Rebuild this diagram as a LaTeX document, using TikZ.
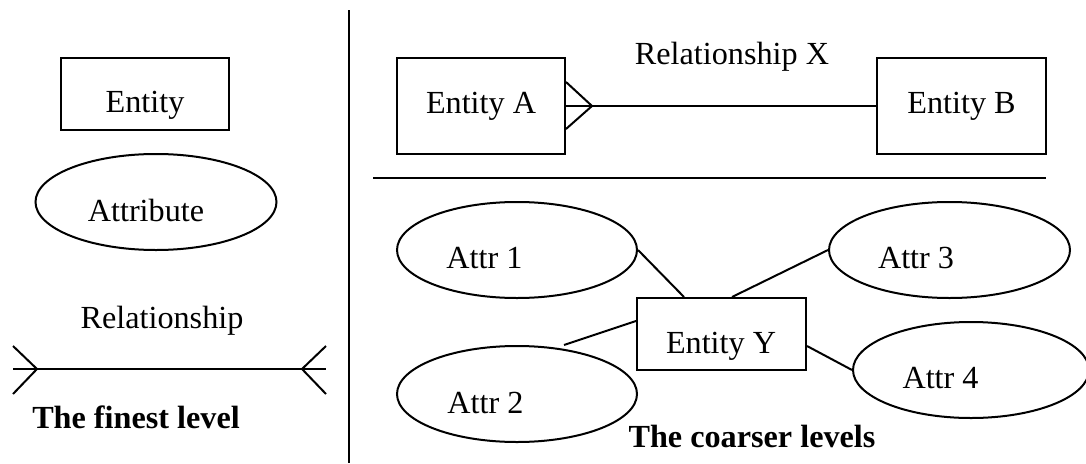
\documentclass[tikz,border=0pt]{standalone}
\usetikzlibrary{shapes.geometric}

% Palatino-like text if the Type 1 fonts are available, Times-like otherwise
\IfFileExists{pplr8t.tfm}{%
  \usepackage[T1]{fontenc}%
  \renewcommand{\rmdefault}{ppl}%
  \newcommand{\lblsize}{\fontsize{28.5}{34}\selectfont}%
}{%
  \usepackage{fontspec}%
  \setmainfont{Liberation Serif}%
  \newcommand{\lblsize}{\fontsize{32.2}{38}\selectfont}%
}

\tikzset{
  ln/.style={line width=2pt, line cap=butt, line join=miter},
  entbox/.style={draw, line width=2pt, rectangle, inner sep=0pt},
  attrell/.style={draw, line width=2pt, ellipse, inner sep=0pt,
    minimum width=240pt, minimum height=96pt},
  txt/.style={anchor=base, inner sep=0pt, font=\lblsize},
  bold/.style={txt, font=\lblsize\bfseries},
}

\begin{document}
\begin{tikzpicture}[x=1pt, y=-1pt]
\useasboundingbox (0,0) rectangle (1086,463);

% --- left panel: the finest level ---
\node[entbox, minimum width=168pt, minimum height=72pt] (e0) at (145,94) {};
\node[txt] (e0t) at (145,112) {Entity};

\node[attrell, minimum width=241pt] (at) at (156,202) {};
\node[txt] (att) at (146,221) {Attribute};

\node[txt] (relt) at (162,328) {Relationship};
\coordinate (r1) at (13,369);
\coordinate (r2) at (326,369);
\coordinate (r1a) at (37,369);
\coordinate (r2a) at (302,369);
\draw[ln] (r1) -- (r2);
\draw[ln] ([yshift=23pt]r1) -- (r1a) -- ([yshift=-25pt]r1);
\draw[ln] ([yshift=23pt]r2) -- (r2a) -- ([yshift=-25pt]r2);

\node[bold] (fin) at (136,428) {The finest level};

% --- divider ---
\coordinate (dtop) at (349,10);
\coordinate (dbot) at (349,463);
\draw[ln] (dtop) -- (dbot);

% --- right panel: relationship between two entities ---
\node[entbox, minimum width=168pt, minimum height=96pt] (ea) at (481,106) {};
\node[txt] (eat) at (481,113) {Entity A};
\node[entbox, minimum width=169pt, minimum height=96pt] (eb) at (961.5,106) {};
\node[txt] (ebt) at (961.5,113) {Entity B};
\node[txt] (rxt) at (732,64) {Relationship X};

\coordinate (cf) at ([xshift=26pt]ea.east);
\draw[ln] (ea.east) -- (eb.west);
\draw[ln] ([yshift=24pt]ea.east) -- (cf) -- ([yshift=-23pt]ea.east);

\coordinate (s1) at (373,178);
\coordinate (s2) at (1046,178);
\draw[ln] (s1) -- (s2);

% --- right panel: entity with attributes ---
\node[entbox, minimum width=169pt, minimum height=72pt] (ey) at (721.5,334) {};
\node[txt] (eyt) at (721,353) {Entity Y};

\node[attrell] (a1) at (517,250) {};
\node[txt] (a1t) at (484.5,268) {Attr 1};
\node[attrell] (a2) at (517,394) {};
\node[txt] (a2t) at (485.5,413) {Attr 2};
\node[attrell, minimum width=241pt] (a3) at (949.5,250) {};
\node[txt] (a3t) at (916,268) {Attr 3};
\node[attrell, minimum width=236pt] (a4) at (971,370) {};
\node[txt] (a4t) at (940.5,388) {Attr 4};

\draw[ln] (a1.east) -- ([xshift=48pt]ey.north west);
\draw[ln] (a3.west) -- ([xshift=96pt]ey.north west);
\draw[ln] ([yshift=-24pt]ey.north west) -- ([xshift=47pt]a2.north);
\draw[ln] ([yshift=-12pt]ey.east) -- (a4.west);

\node[bold] (coa) at (752,447) {The coarser levels};
\end{tikzpicture}
\end{document}
